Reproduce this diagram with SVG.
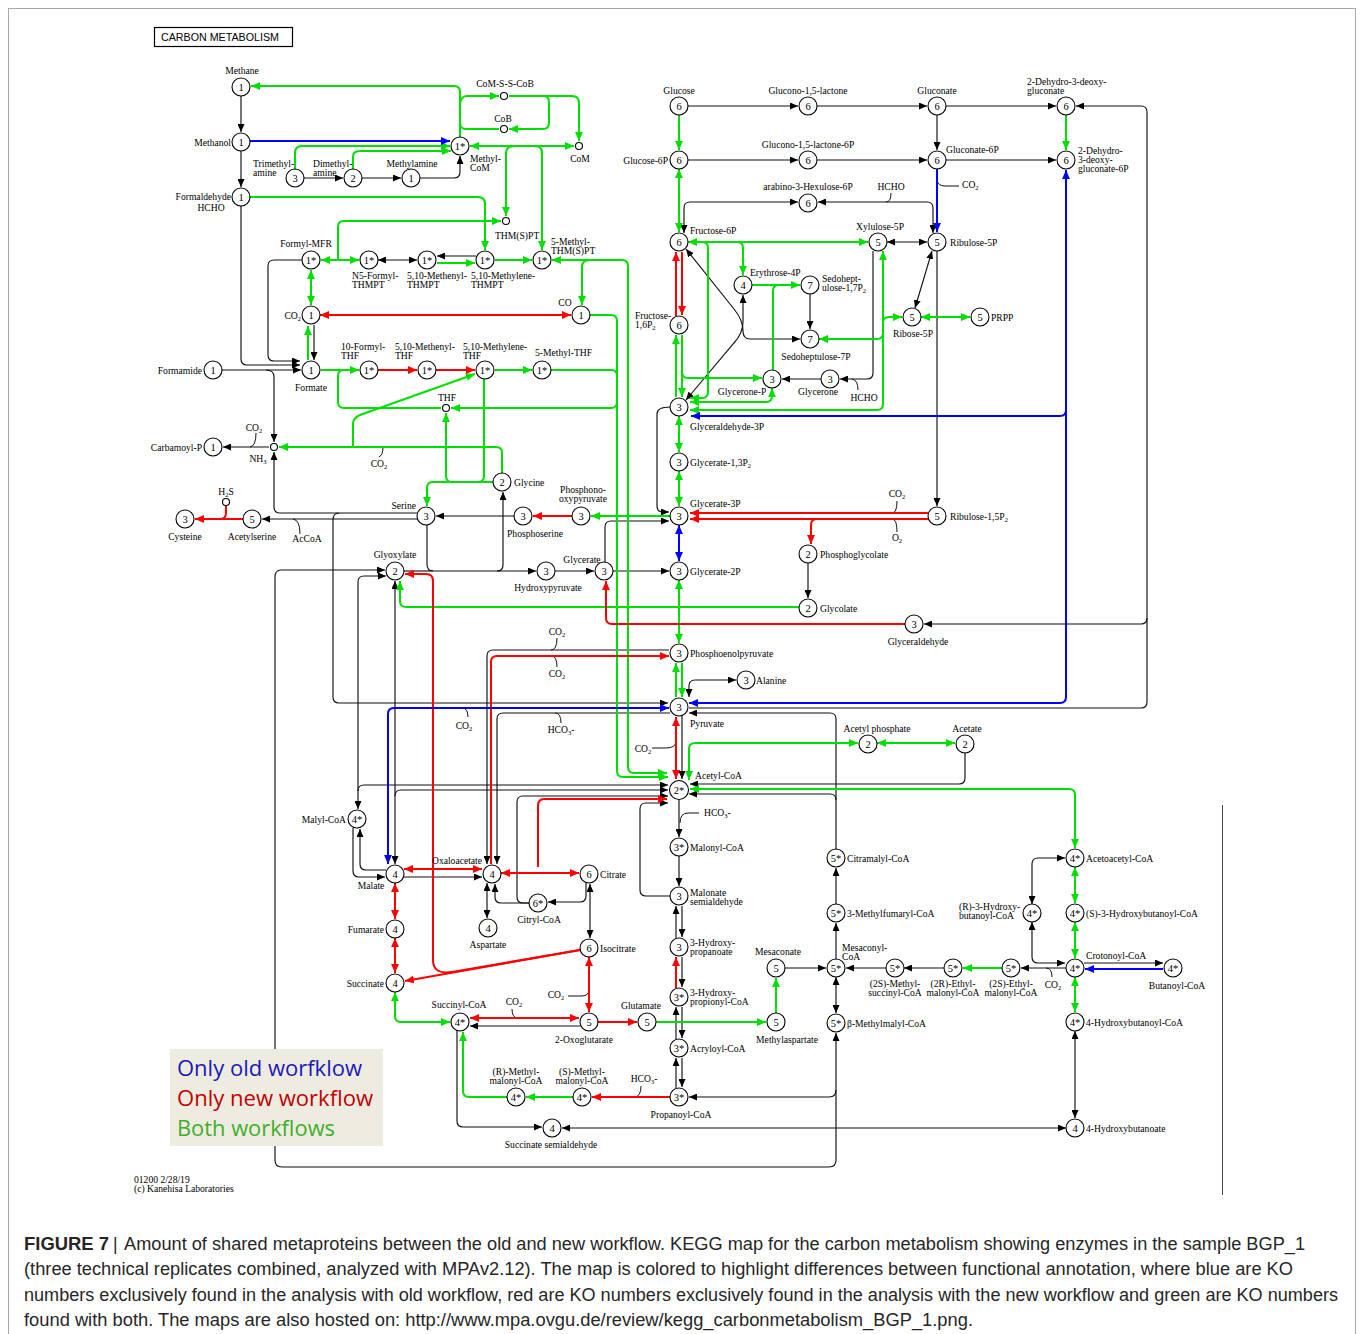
<svg xmlns="http://www.w3.org/2000/svg" width="1360" height="1334" viewBox="0 0 1360 1334">
<style>
.k{fill:none;stroke:#111;stroke-width:1.15}
.g{fill:none;stroke:#00e000;stroke-width:2}
.r{fill:none;stroke:#ff0000;stroke-width:2}
.b{fill:none;stroke:#0000ff;stroke-width:2}
.k.e{marker-end:url(#mk)} .k.s{marker-start:url(#mk)}
.g.e{marker-end:url(#mg)} .g.s{marker-start:url(#mg)}
.r.e{marker-end:url(#mr)} .r.s{marker-start:url(#mr)}
.b.e{marker-end:url(#mb)} .b.s{marker-start:url(#mb)}
.t{fill:none;stroke:#111;stroke-width:1}
.nd circle{fill:#fff;stroke:#000;stroke-width:1.1}
.n{font-family:"Liberation Serif",serif;font-size:10.5px;text-anchor:middle}
.lb{font-family:"Liberation Serif",serif;font-size:9.6px;fill:#000}
.sb{font-size:6.5px}
.m{text-anchor:middle}.x{text-anchor:end}
.cap{font-family:"Liberation Sans",Arial,sans-serif;font-size:17.5px;fill:#262626}
.leg{font-family:"Open Sans","Liberation Sans",sans-serif;font-size:22px}
</style>
<defs>
<marker id="mk" viewBox="0 0 8 7" refX="8" refY="3.5" markerWidth="8" markerHeight="7" markerUnits="userSpaceOnUse" orient="auto-start-reverse"><path d="M0,0L8,3.5L0,7z" fill="#000"/></marker>
<marker id="mg" viewBox="0 0 8 7" refX="8" refY="3.5" markerWidth="9" markerHeight="8" markerUnits="userSpaceOnUse" orient="auto-start-reverse"><path d="M0,0L8,3.5L0,7z" fill="#00e000"/></marker>
<marker id="mr" viewBox="0 0 8 7" refX="8" refY="3.5" markerWidth="9" markerHeight="8" markerUnits="userSpaceOnUse" orient="auto-start-reverse"><path d="M0,0L8,3.5L0,7z" fill="#ff0000"/></marker>
<marker id="mb" viewBox="0 0 8 7" refX="8" refY="3.5" markerWidth="9" markerHeight="8" markerUnits="userSpaceOnUse" orient="auto-start-reverse"><path d="M0,0L8,3.5L0,7z" fill="#0000ff"/></marker>
</defs>
<rect x="0" y="0" width="1360" height="1334" fill="#fff"/>
<rect x="8.5" y="8.5" width="1347" height="1340" fill="none" stroke="#aaa" stroke-width="1"/>
<line x1="1222.5" y1="805" x2="1222.5" y2="1195" stroke="#444" stroke-width="1"/>

<g id="title"><rect x="154.5" y="27.5" width="138" height="19" fill="#fff" stroke="#000" stroke-width="1.2"/><text x="161" y="41" font-family="Liberation Sans,sans-serif" font-size="11" textLength="118" lengthAdjust="spacingAndGlyphs">CARBON  METABOLISM</text></g>

<g id="connectors">
<!-- black -->
<path class="k e" d="M241,96V132"/>
<path class="k e" d="M241,151V187"/>
<path class="k e" d="M241,206V359Q241,365 247,365H300"/>
<path class="k e" d="M302,260H274Q268,260 268,266V355Q268,361 274,361H300"/>
<path class="k e" d="M222,370H301"/>
<path class="k e" d="M266,370Q274,370 274,377V442"/>
<path class="k e" d="M303,178H343"/>
<path class="k e" d="M361,178H401"/>
<path class="k e" d="M420,178H454Q460,178 460,172V156"/>
<path class="k e" d="M314,325V360"/>
<path class="k e s" d="M378,260H417"/>
<path class="k e" d="M476,256H437"/>
<path class="k e" d="M269,447H223"/>
<path class="t" d="M256,433q0,13 -6,14"/>
<path class="k e" d="M417,513H280Q274,513 274,507V452"/>
<path class="k e" d="M417,519H262"/>
<path class="t" d="M300,534q0,-14 -7,-15"/>
<path class="k e" d="M514,516H436"/>
<path class="k e" d="M339,513Q333,513 333,520V697Q333,703 339,703H668"/>
<path class="k e" d="M427,525V564Q427,571 433,571H536"/>
<path class="k" d="M404,571H433"/>
<path class="k e" d="M497,571Q503,571 503,565V492"/>
<path class="k e" d="M555,571H594"/>
<path class="k e" d="M613,571H669"/>
<path class="k e" d="M605,562V527Q605,521 611,521H669"/>
<path class="k e s" d="M385,570H281Q275,570 275,577V1160Q275,1167 282,1167H829Q836,1167 836,1160V1033"/>
<path class="k e s" d="M386,576H364Q358,576 358,582V809"/>
<path class="k e s" d="M395,581V864"/>
<path class="k e" d="M358,791Q358,785 364,785H668"/>
<path class="k e" d="M395,796Q395,790 401,790H668"/>
<path class="k e" d="M529,903H523Q517,903 517,897V802Q517,796 523,796H668"/>
<path class="k e" d="M670,896H646Q640,896 640,890V809Q640,803 646,803H668"/>
<path class="k e" d="M669,650H493Q487,650 487,656V864"/>
<path class="t" d="M557,638q0,12 -6,12"/>
<path class="k e" d="M670,713H503Q497,713 497,719V864"/>
<path class="t" d="M555,713q6,0 6,10"/>
<path class="k e" d="M404,877H482"/>
<path class="k e s" d="M487,883V918"/>
<path class="k e" d="M529,903H501Q495,903 495,897V884"/>
<path class="k e" d="M586,882V896Q586,902 580,902H548"/>
<path class="k e s" d="M590,884V938"/>
<path class="k e" d="M353,828V871Q353,877 359,877H385"/>
<path class="k e" d="M386,870H366Q360,870 360,864V829"/>
<path class="k e" d="M580,1026H470"/>
<path class="k e" d="M457,1031V1121Q457,1127 463,1127H542"/>
<path class="k e s" d="M1066,1128H562"/>
<path class="k e" d="M836,1090Q836,1097 829,1097H689"/>
<path class="k e" d="M676,1088V1058"/>
<path class="k e" d="M682,1058V1087"/>
<path class="k e" d="M676,1039V1007"/>
<path class="k e" d="M682,1007V1038"/>
<path class="k e" d="M682,957V987"/>
<path class="k e" d="M676,938V906"/>
<path class="k e" d="M682,906V937"/>
<path class="k e" d="M679,856V886"/>
<path class="k e" d="M679,800V837"/>
<path class="t" d="M680,823q0,-10 8,-10h11"/>
<path class="k e" d="M682,716V779"/>
<path class="t" d="M652,748h14q10,0 10,-7"/>
<path class="k e s" d="M689,697V686Q689,680 695,680H736"/>
<path class="k e" d="M836,849V719Q836,713 830,713H689"/>
<path class="k e" d="M836,800Q836,794 830,794H689"/>
<path class="k e" d="M965,753V778Q965,784 959,784H690"/>
<path class="k e" d="M836,959V923"/>
<path class="k e" d="M836,904V868"/>
<path class="k e s" d="M836,977V1013"/>
<path class="k e" d="M785,968H826"/>
<path class="k e" d="M886,968H846"/>
<path class="k e" d="M944,968H904"/>
<path class="k e" d="M1066,968H1021"/>
<path class="t" d="M1046,968q6,0 6,9"/>
<path class="k e s" d="M1032,904V864Q1032,858 1038,858H1065"/>
<path class="k e s" d="M1032,922V957Q1032,963 1038,963H1065"/>
<path class="k e" d="M1084,963H1163"/>
<path class="k e s" d="M1075,1031V1118"/>
<path class="k e" d="M688,106H798"/>
<path class="k e" d="M817,106H927"/>
<path class="k e" d="M946,106H1056"/>
<path class="k e" d="M937,115V150"/>
<path class="k e" d="M688,160H798"/>
<path class="k e" d="M817,160H927"/>
<path class="k e" d="M946,160H1056"/>
<path class="k e s" d="M684,233V208Q684,202 690,202H798"/>
<path class="k e s" d="M933,233V208Q933,202 927,202H818"/>
<path class="t" d="M891,193q0,9 -5,9"/>
<path class="k e s" d="M887,242H927"/>
<path class="k e" d="M810,294V329"/>
<path class="k e s" d="M686,249L734,309Q743,320 743,331Q743,339 750,339H800"/>
<path class="k e s" d="M686,400L734,343Q743,333 743,322V295"/>
<path class="k e s" d="M932,251L915,308"/>
<path class="k e" d="M937,251V506"/>
<path class="k e" d="M821,379H782"/>
<path class="k e" d="M873,251V373Q873,379 867,379H840"/>
<path class="t" d="M858,390q0,-10 -6,-11"/>
<path class="k e" d="M670,407Q657,407 657,414V506Q657,512 663,512H669"/>
<path class="k e" d="M808,563V598"/>
<path class="k e" d="M689,708H1141Q1147,708 1147,702V112Q1147,106 1141,106H1076"/>
<path class="k e" d="M1147,618Q1147,624 1141,624H924"/>
<path class="t" d="M937,180q1,6 8,6h14"/>
<path class="t" d="M897,501q0,12 -5,12"/>
<path class="t" d="M897,532q0,-13 -5,-13"/>
<path class="t" d="M462,708q6,0 6,9"/>
<path class="t" d="M557,667q0,-11 -6,-11"/>
<path class="t" d="M512,1009q0,9 6,9"/>
<path class="t" d="M568,996h14q7,0 7,-7"/>
<path class="t" d="M641,1086q0,11 -7,11"/>
<path class="t" d="M383,447q0,8 -4,10"/>
<!-- green -->
<path class="g e" d="M460,137V92Q460,86 454,86H251"/>
<path class="g e" d="M460,106Q460,96 467,96H499"/>
<path class="g e" d="M509,96H543Q549,96 549,102V123Q549,129 543,129H509"/>
<path class="g" d="M499,129H466Q460,129 460,123"/>
<path class="g e" d="M509,96H572Q579,96 579,103V141"/>
<path class="g e s" d="M470,146H574"/>
<path class="g e" d="M515,146Q506,146 506,153V216"/>
<path class="g e" d="M535,146Q542,146 542,153V250"/>
<path class="g e" d="M295,169V153Q295,146 302,146H450"/>
<path class="g e" d="M353,169V157Q353,151 360,151H451"/>
<path class="g e" d="M250,197H478Q485,197 485,204V250"/>
<path class="g e" d="M338,260V227Q338,221 344,221H501"/>
<path class="g e s" d="M321,260H359"/>
<path class="g e" d="M437,263H475"/>
<path class="g e" d="M495,260H532"/>
<path class="g e s" d="M552,260H622Q628,260 628,266V767Q628,773 634,773H667"/>
<path class="g e" d="M590,260Q582,260 582,267V305"/>
<path class="g e" d="M590,315H611Q617,315 617,321V771Q617,777 623,777H668"/>
<path class="g e s" d="M311,270V305"/>
<path class="g e" d="M308,360V326"/>
<path class="g e" d="M321,370H359"/>
<path class="g e" d="M495,370H532"/>
<path class="g e" d="M551,370H611Q617,370 617,376V402Q617,408 611,408H451"/>
<path class="g" d="M441,408H344Q338,408 338,402V376Q338,370 344,370"/>
<path class="g e" d="M353,447V424Q353,418 360,415L475,374"/>
<path class="g e" d="M502,473V453Q502,447 496,447H279"/>
<path class="g e" d="M493,482H433Q427,482 427,488V506"/>
<path class="g" d="M484,379V476Q484,482 478,482"/>
<path class="g e" d="M452,482Q446,482 446,476V413"/>
<path class="g e" d="M670,516H591"/>
<path class="g e" d="M799,607H406Q400,607 400,601V581"/>
<path class="g e s" d="M679,169V232"/>
<path class="g e" d="M679,115V150"/>
<path class="g e" d="M1066,115V150"/>
<path class="g e s" d="M688,242H868"/>
<path class="g e" d="M737,242Q743,242 743,248V275"/>
<path class="g e" d="M752,285H800"/>
<path class="g" d="M773,370V291Q773,285 779,285"/>
<path class="g e s" d="M819,339H877Q883,339 883,333V323Q883,317 889,317H902"/>
<path class="g e s" d="M883,251V404Q883,410 877,410H690"/>
<path class="g e" d="M702,242Q708,242 708,248V392Q708,398 702,398H690"/>
<path class="g e s" d="M772,388V396Q772,402 766,402H690"/>
<path class="g e" d="M676,397V335"/>
<path class="g e" d="M682,335V397"/>
<path class="g e" d="M682,372Q682,378 688,378H762"/>
<path class="g e s" d="M921,317H970"/>
<path class="g e s" d="M679,416V452"/>
<path class="g e s" d="M679,471V506"/>
<path class="g e s" d="M679,580V643"/>
<path class="g e" d="M676,697V663"/>
<path class="g e" d="M682,663V697"/>
<path class="g e s" d="M689,780V749Q689,743 695,743H858"/>
<path class="g e s" d="M877,743H955"/>
<path class="g e s" d="M690,789H1069Q1075,789 1075,795V848"/>
<path class="g e s" d="M1075,867V903"/>
<path class="g e s" d="M1075,922V958"/>
<path class="g e s" d="M1075,977V1012"/>
<path class="g e" d="M1002,968H963"/>
<path class="g e" d="M776,1013V978"/>
<path class="g e" d="M656,1022H766"/>
<path class="g e s" d="M395,992V1016Q395,1022 401,1022H450"/>
<path class="g e" d="M573,1097H526"/>
<path class="g e" d="M507,1097H469Q463,1097 463,1091V1032"/>
<!-- red -->
<path class="r e s" d="M320,315H571"/>
<path class="r e" d="M378,370H417"/>
<path class="r e" d="M436,370H475"/>
<path class="r e" d="M243,519H195"/>
<path class="r" d="M226,506V513Q226,519 220,519"/>
<path class="r e" d="M572,516H533"/>
<path class="r e" d="M905,624H612Q606,624 606,618V581"/>
<path class="r e" d="M580,950L452,972Q433,975 433,960V581Q433,574 426,574H405"/>
<path class="r e" d="M580,950L405,981"/>
<path class="r e s" d="M589,957V1012"/>
<path class="r e s" d="M470,1018H579"/>
<path class="r e" d="M598,1022H637"/>
<path class="r e" d="M670,1097H592"/>
<path class="r e s" d="M404,869H482"/>
<path class="r e s" d="M501,873H579"/>
<path class="r e" d="M538,867V806Q538,799 544,799H667"/>
<path class="r e s" d="M395,883V919"/>
<path class="r e s" d="M395,938V973"/>
<path class="r e" d="M928,513H690"/>
<path class="r e" d="M928,519H690"/>
<path class="r e" d="M817,519Q811,519 811,525V544"/>
<path class="r e" d="M676,316V252"/>
<path class="r e" d="M682,252V315"/>
<path class="r e" d="M491,864V662Q491,656 497,656H669"/>
<path class="r e s" d="M676,717V779"/>
<path class="r e" d="M676,988V957"/>
<!-- blue -->
<path class="b e" d="M250,141H450"/>
<path class="b e" d="M937,169V232"/>
<path class="b e s" d="M689,703H1060Q1066,703 1066,697V170"/>
<path class="b e" d="M1066,410Q1066,416 1060,416H691"/>
<path class="b e s" d="M669,708H394Q388,708 388,714V864"/>
<path class="b e s" d="M679,525V561"/>
<path class="b e" d="M1163,969H1085"/>
</g>

<g id="nodes">
<g id="methane" class="nd"><circle cx="241" cy="87" r="9"/><text class="n" x="241" y="91">1</text><text class="lb m" x="242" y="74">Methane</text></g>
<g id="methanol" class="nd"><circle cx="241" cy="142" r="9"/><text class="n" x="241" y="146">1</text><text class="lb x" x="231" y="146">Methanol</text></g>
<g id="formaldehyde" class="nd"><circle cx="241" cy="197" r="9"/><text class="n" x="241" y="201">1</text><text class="lb x" x="231" y="200">Formaldehyde</text><text class="lb m" x="211" y="211">HCHO</text></g>
<g id="methylcom" class="nd"><circle cx="460" cy="146" r="9"/><text class="n" x="460" y="150">1*</text><text class="lb" x="470" y="162">Methyl-</text><text class="lb" x="470" y="171">CoM</text></g>
<g id="comsscob" class="nd"><circle cx="504" cy="96" r="3.5"/><text class="lb m" x="505" y="87">CoM-S-S-CoB</text></g>
<g id="cob" class="nd"><circle cx="504" cy="129" r="3.5"/><text class="lb m" x="503" y="122">CoB</text></g>
<g id="com" class="nd"><circle cx="579" cy="146" r="3.5"/><text class="lb m" x="580" y="162">CoM</text></g>
<g id="trimethylamine" class="nd"><circle cx="295" cy="178" r="9"/><text class="n" x="295" y="182">3</text><text class="lb" x="253" y="167">Trimethyl-</text><text class="lb" x="253" y="176">amine</text></g>
<g id="dimethylamine" class="nd"><circle cx="353" cy="178" r="9"/><text class="n" x="353" y="182">2</text><text class="lb" x="313" y="167">Dimethyl-</text><text class="lb" x="313" y="176">amine</text></g>
<g id="methylamine" class="nd"><circle cx="411" cy="178" r="9"/><text class="n" x="411" y="182">1</text><text class="lb m" x="412" y="167">Methylamine</text></g>
<g id="thmspt" class="nd"><circle cx="506" cy="221" r="3.5"/><text class="lb" x="495" y="239">THM(S)PT</text></g>
<g id="formylmfr" class="nd"><circle cx="311" cy="260" r="9"/><text class="n" x="311" y="264">1*</text><text class="lb m" x="306" y="247">Formyl-MFR</text></g>
<g id="n5formylthmpt" class="nd"><circle cx="369" cy="260" r="9"/><text class="n" x="369" y="264">1*</text><text class="lb" x="352" y="279">N5-Formyl-</text><text class="lb" x="352" y="288">THMPT</text></g>
<g id="methenylthmpt" class="nd"><circle cx="427" cy="260" r="9"/><text class="n" x="427" y="264">1*</text><text class="lb" x="407" y="279">5,10-Methenyl-</text><text class="lb" x="407" y="288">THMPT</text></g>
<g id="methylenethmpt" class="nd"><circle cx="485" cy="260" r="9"/><text class="n" x="485" y="264">1*</text><text class="lb" x="471" y="279">5,10-Methylene-</text><text class="lb" x="471" y="288">THMPT</text></g>
<g id="methylthmspt" class="nd"><circle cx="542" cy="260" r="9"/><text class="n" x="542" y="264">1*</text><text class="lb" x="551" y="245">5-Methyl-</text><text class="lb" x="551" y="254">THM(S)PT</text></g>
<g id="co2" class="nd"><circle cx="311" cy="315" r="9"/><text class="n" x="311" y="319">1</text><text class="lb x" x="301" y="319">CO<tspan class="sb" dy="2">2</tspan></text></g>
<g id="co" class="nd"><circle cx="581" cy="315" r="9"/><text class="n" x="581" y="319">1</text><text class="lb m" x="565" y="306">CO</text></g>
<g id="formate" class="nd"><circle cx="311" cy="370" r="9"/><text class="n" x="311" y="374">1</text><text class="lb m" x="311" y="391">Formate</text></g>
<g id="formamide" class="nd"><circle cx="213" cy="370" r="9"/><text class="n" x="213" y="374">1</text><text class="lb x" x="202" y="374">Formamide</text></g>
<g id="formylthf" class="nd"><circle cx="369" cy="370" r="9"/><text class="n" x="369" y="374">1*</text><text class="lb" x="341" y="350">10-Formyl-</text><text class="lb" x="341" y="359">THF</text></g>
<g id="methenylthf" class="nd"><circle cx="427" cy="370" r="9"/><text class="n" x="427" y="374">1*</text><text class="lb" x="395" y="350">5,10-Methenyl-</text><text class="lb" x="395" y="359">THF</text></g>
<g id="methylenethf" class="nd"><circle cx="485" cy="370" r="9"/><text class="n" x="485" y="374">1*</text><text class="lb" x="463" y="350">5,10-Methylene-</text><text class="lb" x="463" y="359">THF</text></g>
<g id="methylthf" class="nd"><circle cx="542" cy="370" r="9"/><text class="n" x="542" y="374">1*</text><text class="lb" x="535" y="356">5-Methyl-THF</text></g>
<g id="thf" class="nd"><circle cx="446" cy="408" r="3.5"/><text class="lb m" x="447" y="401">THF</text></g>
<g id="nh3" class="nd"><circle cx="274" cy="447" r="3.5"/><text class="lb m" x="258" y="462">NH<tspan class="sb" dy="2">3</tspan></text></g>
<g id="carbamoylp" class="nd"><circle cx="213" cy="447" r="9"/><text class="n" x="213" y="451">1</text><text class="lb x" x="202" y="451">Carbamoyl-P</text></g>
<g id="glycine" class="nd"><circle cx="502" cy="482" r="9"/><text class="n" x="502" y="486">2</text><text class="lb" x="514" y="486">Glycine</text></g>
<g id="serine" class="nd"><circle cx="426" cy="516" r="9"/><text class="n" x="426" y="520">3</text><text class="lb x" x="416" y="509">Serine</text></g>
<g id="phosphoserine" class="nd"><circle cx="523" cy="516" r="9"/><text class="n" x="523" y="520">3</text><text class="lb m" x="535" y="537">Phosphoserine</text></g>
<g id="phosphonooxypyruvate" class="nd"><circle cx="581" cy="516" r="9"/><text class="n" x="581" y="520">3</text><text class="lb m" x="583" y="493">Phosphono-</text><text class="lb m" x="583" y="502">oxypyruvate</text></g>
<g id="acetylserine" class="nd"><circle cx="252" cy="519" r="9"/><text class="n" x="252" y="523">5</text><text class="lb m" x="252" y="540">Acetylserine</text></g>
<g id="cysteine" class="nd"><circle cx="185" cy="519" r="9"/><text class="n" x="185" y="523">3</text><text class="lb m" x="185" y="540">Cysteine</text></g>
<g id="h2s" class="nd"><circle cx="226" cy="502" r="3.5"/><text class="lb m" x="226" y="495">H<tspan class="sb" dy="2">2</tspan><tspan dy="-2">S</tspan></text></g>
<g id="sidelabels"><text class="lb m" x="307" y="542">AcCoA</text><text class="lb m" x="254" y="431">CO<tspan class="sb" dy="2">2</tspan></text><text class="lb m" x="379" y="467">CO<tspan class="sb" dy="2">2</tspan></text></g>
<g id="glyoxylate" class="nd"><circle cx="395" cy="571" r="9"/><text class="n" x="395" y="575">2</text><text class="lb m" x="395" y="558">Glyoxylate</text></g>
<g id="hydroxypyruvate" class="nd"><circle cx="546" cy="571" r="9"/><text class="n" x="546" y="575">3</text><text class="lb m" x="548" y="591">Hydroxypyruvate</text></g>
<g id="glycerate" class="nd"><circle cx="604" cy="571" r="9"/><text class="n" x="604" y="575">3</text><text class="lb m" x="582" y="563">Glycerate</text></g>
<g id="glucose" class="nd"><circle cx="679" cy="106" r="9"/><text class="n" x="679" y="110">6</text><text class="lb m" x="679" y="94">Glucose</text></g>
<g id="gluconolactone" class="nd"><circle cx="808" cy="106" r="9"/><text class="n" x="808" y="110">6</text><text class="lb m" x="808" y="94">Glucono-1,5-lactone</text></g>
<g id="gluconate" class="nd"><circle cx="937" cy="106" r="9"/><text class="n" x="937" y="110">6</text><text class="lb m" x="937" y="94">Gluconate</text></g>
<g id="kdg" class="nd"><circle cx="1066" cy="106" r="9"/><text class="n" x="1066" y="110">6</text><text class="lb" x="1027" y="85">2-Dehydro-3-deoxy-</text><text class="lb" x="1027" y="94">gluconate</text></g>
<g id="g6p" class="nd"><circle cx="679" cy="160" r="9"/><text class="n" x="679" y="164">6</text><text class="lb x" x="668" y="164">Glucose-6P</text></g>
<g id="gluconolactone6p" class="nd"><circle cx="808" cy="160" r="9"/><text class="n" x="808" y="164">6</text><text class="lb m" x="808" y="148">Glucono-1,5-lactone-6P</text></g>
<g id="gluconate6p" class="nd"><circle cx="937" cy="160" r="9"/><text class="n" x="937" y="164">6</text><text class="lb" x="946" y="153">Gluconate-6P</text></g>
<g id="kdpg" class="nd"><circle cx="1066" cy="160" r="9"/><text class="n" x="1066" y="164">6</text><text class="lb" x="1078" y="154">2-Dehydro-</text><text class="lb" x="1078" y="163">3-deoxy-</text><text class="lb" x="1078" y="172">gluconate-6P</text></g>
<g id="hexulose6p" class="nd"><circle cx="808" cy="203" r="9"/><text class="n" x="808" y="207">6</text><text class="lb m" x="808" y="190">arabino-3-Hexulose-6P</text><text class="lb m" x="891" y="190">HCHO</text><text class="lb" x="962" y="188">CO<tspan class="sb" dy="2">2</tspan></text></g>
<g id="f6p" class="nd"><circle cx="679" cy="242" r="9"/><text class="n" x="679" y="246">6</text><text class="lb" x="690" y="234">Fructose-6P</text></g>
<g id="xu5p" class="nd"><circle cx="878" cy="242" r="9"/><text class="n" x="878" y="246">5</text><text class="lb m" x="880" y="230">Xylulose-5P</text></g>
<g id="ru5p" class="nd"><circle cx="937" cy="242" r="9"/><text class="n" x="937" y="246">5</text><text class="lb" x="950" y="246">Ribulose-5P</text></g>
<g id="e4p" class="nd"><circle cx="743" cy="285" r="9"/><text class="n" x="743" y="289">4</text><text class="lb" x="750" y="276">Erythrose-4P</text></g>
<g id="s17p" class="nd"><circle cx="810" cy="285" r="9"/><text class="n" x="810" y="289">7</text><text class="lb" x="822" y="282">Sedohept-</text><text class="lb" x="822" y="291">ulose-1,7P<tspan class="sb" dy="2">2</tspan></text></g>
<g id="fbp" class="nd"><circle cx="679" cy="325" r="9"/><text class="n" x="679" y="329">6</text><text class="lb" x="635" y="319">Fructose-</text><text class="lb" x="635" y="328">1,6P<tspan class="sb" dy="2">2</tspan></text></g>
<g id="r5p" class="nd"><circle cx="912" cy="317" r="9"/><text class="n" x="912" y="321">5</text><text class="lb m" x="913" y="337">Ribose-5P</text></g>
<g id="prpp" class="nd"><circle cx="980" cy="317" r="9"/><text class="n" x="980" y="321">5</text><text class="lb" x="991" y="321">PRPP</text></g>
<g id="s7p" class="nd"><circle cx="810" cy="339" r="9"/><text class="n" x="810" y="343">7</text><text class="lb m" x="816" y="360">Sedoheptulose-7P</text></g>
<g id="dhap" class="nd"><circle cx="772" cy="379" r="9"/><text class="n" x="772" y="383">3</text><text class="lb m" x="742" y="395">Glycerone-P</text></g>
<g id="glycerone" class="nd"><circle cx="830" cy="379" r="9"/><text class="n" x="830" y="383">3</text><text class="lb m" x="818" y="395">Glycerone</text><text class="lb m" x="864" y="401">HCHO</text></g>
<g id="g3p" class="nd"><circle cx="679" cy="407" r="9"/><text class="n" x="679" y="411">3</text><text class="lb" x="690" y="430">Glyceraldehyde-3P</text></g>
<g id="bpg" class="nd"><circle cx="679" cy="462" r="9"/><text class="n" x="679" y="466">3</text><text class="lb" x="690" y="466">Glycerate-1,3P<tspan class="sb" dy="2">2</tspan></text></g>
<g id="glycerate3p" class="nd"><circle cx="679" cy="516" r="9"/><text class="n" x="679" y="520">3</text><text class="lb" x="690" y="507">Glycerate-3P</text></g>
<g id="rubp" class="nd"><circle cx="937" cy="516" r="9"/><text class="n" x="937" y="520">5</text><text class="lb" x="950" y="520">Ribulose-1,5P<tspan class="sb" dy="2">2</tspan></text><text class="lb m" x="897" y="497">CO<tspan class="sb" dy="2">2</tspan></text><text class="lb m" x="897" y="541">O<tspan class="sb" dy="2">2</tspan></text></g>
<g id="phosphoglycolate" class="nd"><circle cx="808" cy="554" r="9"/><text class="n" x="808" y="558">2</text><text class="lb" x="820" y="558">Phosphoglycolate</text></g>
<g id="glycerate2p" class="nd"><circle cx="679" cy="571" r="9"/><text class="n" x="679" y="575">3</text><text class="lb" x="690" y="575">Glycerate-2P</text></g>
<g id="glycolate" class="nd"><circle cx="808" cy="608" r="9"/><text class="n" x="808" y="612">2</text><text class="lb" x="820" y="612">Glycolate</text></g>
<g id="glyceraldehyde" class="nd"><circle cx="914" cy="624" r="9"/><text class="n" x="914" y="628">3</text><text class="lb m" x="918" y="645">Glyceraldehyde</text></g>
<g id="pep" class="nd"><circle cx="679" cy="653" r="9"/><text class="n" x="679" y="657">3</text><text class="lb" x="690" y="657">Phosphoenolpyruvate</text><text class="lb m" x="557" y="635">CO<tspan class="sb" dy="2">2</tspan></text><text class="lb m" x="557" y="677">CO<tspan class="sb" dy="2">2</tspan></text></g>
<g id="alanine" class="nd"><circle cx="746" cy="680" r="9"/><text class="n" x="746" y="684">3</text><text class="lb" x="756" y="684">Alanine</text></g>
<g id="pyruvate" class="nd"><circle cx="679" cy="707" r="9"/><text class="n" x="679" y="711">3</text><text class="lb" x="690" y="727">Pyruvate</text><text class="lb m" x="464" y="729">CO<tspan class="sb" dy="2">2</tspan></text><text class="lb m" x="561" y="733">HCO<tspan class="sb" dy="2">3</tspan><tspan dy="-2">-</tspan></text><text class="lb m" x="643" y="752">CO<tspan class="sb" dy="2">2</tspan></text></g>
<g id="acetylp" class="nd"><circle cx="868" cy="744" r="9"/><text class="n" x="868" y="748">2</text><text class="lb m" x="877" y="732">Acetyl phosphate</text></g>
<g id="acetate" class="nd"><circle cx="965" cy="744" r="9"/><text class="n" x="965" y="748">2</text><text class="lb m" x="967" y="732">Acetate</text></g>
<g id="acetylcoa" class="nd"><circle cx="679" cy="790" r="9.5"/><text class="n" x="679" y="794">2*</text><text class="lb" x="695" y="779">Acetyl-CoA</text><text class="lb" x="704" y="816">HCO<tspan class="sb" dy="2">3</tspan><tspan dy="-2">-</tspan></text></g>
<g id="malonylcoa" class="nd"><circle cx="679" cy="847" r="9"/><text class="n" x="679" y="851">3*</text><text class="lb" x="690" y="851">Malonyl-CoA</text></g>
<g id="msa" class="nd"><circle cx="679" cy="896" r="9"/><text class="n" x="679" y="900">3</text><text class="lb" x="690" y="896">Malonate</text><text class="lb" x="690" y="905">semialdehyde</text></g>
<g id="hp" class="nd"><circle cx="679" cy="947" r="9"/><text class="n" x="679" y="951">3</text><text class="lb" x="690" y="946">3-Hydroxy-</text><text class="lb" x="690" y="955">propanoate</text></g>
<g id="hpcoa" class="nd"><circle cx="679" cy="997" r="9"/><text class="n" x="679" y="1001">3*</text><text class="lb" x="690" y="996">3-Hydroxy-</text><text class="lb" x="690" y="1005">propionyl-CoA</text></g>
<g id="acryloylcoa" class="nd"><circle cx="679" cy="1048" r="9"/><text class="n" x="679" y="1052">3*</text><text class="lb" x="690" y="1052">Acryloyl-CoA</text></g>
<g id="propanoylcoa" class="nd"><circle cx="679" cy="1097" r="9"/><text class="n" x="679" y="1101">3*</text><text class="lb m" x="681" y="1118">Propanoyl-CoA</text><text class="lb m" x="644" y="1082">HCO<tspan class="sb" dy="2">3</tspan><tspan dy="-2">-</tspan></text></g>
<g id="citramalylcoa" class="nd"><circle cx="836" cy="858" r="9"/><text class="n" x="836" y="862">5*</text><text class="lb" x="847" y="862">Citramalyl-CoA</text></g>
<g id="mfcoa" class="nd"><circle cx="836" cy="913" r="9"/><text class="n" x="836" y="917">5*</text><text class="lb" x="847" y="917">3-Methylfumaryl-CoA</text></g>
<g id="mesaconylcoa" class="nd"><circle cx="836" cy="968" r="9"/><text class="n" x="836" y="972">5*</text><text class="lb" x="842" y="951">Mesaconyl-</text><text class="lb" x="842" y="960">CoA</text></g>
<g id="bmmcoa" class="nd"><circle cx="836" cy="1023" r="9"/><text class="n" x="836" y="1027">5*</text><text class="lb" x="847" y="1027">β-Methylmalyl-CoA</text></g>
<g id="mesaconate" class="nd"><circle cx="776" cy="968" r="9"/><text class="n" x="776" y="972">5</text><text class="lb m" x="778" y="955">Mesaconate</text></g>
<g id="methylaspartate" class="nd"><circle cx="776" cy="1022" r="9"/><text class="n" x="776" y="1026">5</text><text class="lb m" x="787" y="1043">Methylaspartate</text></g>
<g id="glutamate" class="nd"><circle cx="647" cy="1022" r="9"/><text class="n" x="647" y="1026">5</text><text class="lb m" x="641" y="1009">Glutamate</text></g>
<g id="oxoglutarate" class="nd"><circle cx="589" cy="1022" r="9"/><text class="n" x="589" y="1026">5</text><text class="lb m" x="584" y="1043">2-Oxoglutarate</text><text class="lb m" x="556" y="998">CO<tspan class="sb" dy="2">2</tspan></text><text class="lb m" x="514" y="1005">CO<tspan class="sb" dy="2">2</tspan></text></g>
<g id="isocitrate" class="nd"><circle cx="589" cy="948" r="9"/><text class="n" x="589" y="952">6</text><text class="lb" x="600" y="952">Isocitrate</text></g>
<g id="citrate" class="nd"><circle cx="589" cy="874" r="9"/><text class="n" x="589" y="878">6</text><text class="lb" x="600" y="878">Citrate</text></g>
<g id="citrylcoa" class="nd"><circle cx="538" cy="903" r="9"/><text class="n" x="538" y="907">6*</text><text class="lb m" x="539" y="923">Citryl-CoA</text></g>
<g id="oxaloacetate" class="nd"><circle cx="492" cy="874" r="9"/><text class="n" x="492" y="878">4</text><text class="lb m" x="457" y="864">Oxaloacetate</text></g>
<g id="aspartate" class="nd"><circle cx="488" cy="928" r="9"/><text class="n" x="488" y="932">4</text><text class="lb m" x="488" y="948">Aspartate</text></g>
<g id="malate" class="nd"><circle cx="395" cy="874" r="9"/><text class="n" x="395" y="878">4</text><text class="lb m" x="371" y="889">Malate</text></g>
<g id="malylcoa" class="nd"><circle cx="357" cy="819" r="9"/><text class="n" x="357" y="823">4*</text><text class="lb x" x="346" y="823">Malyl-CoA</text></g>
<g id="fumarate" class="nd"><circle cx="395" cy="929" r="9"/><text class="n" x="395" y="933">4</text><text class="lb x" x="384" y="933">Fumarate</text></g>
<g id="succinate" class="nd"><circle cx="395" cy="983" r="9"/><text class="n" x="395" y="987">4</text><text class="lb x" x="384" y="987">Succinate</text></g>
<g id="succinylcoa" class="nd"><circle cx="460" cy="1022" r="9"/><text class="n" x="460" y="1026">4*</text><text class="lb m" x="459" y="1008">Succinyl-CoA</text></g>
<g id="rmmcoa" class="nd"><circle cx="516" cy="1097" r="9"/><text class="n" x="516" y="1101">4*</text><text class="lb m" x="516" y="1075">(R)-Methyl-</text><text class="lb m" x="516" y="1084">malonyl-CoA</text></g>
<g id="smmcoa" class="nd"><circle cx="582" cy="1097" r="9"/><text class="n" x="582" y="1101">4*</text><text class="lb m" x="582" y="1075">(S)-Methyl-</text><text class="lb m" x="582" y="1084">malonyl-CoA</text></g>
<g id="ssa" class="nd"><circle cx="552" cy="1128" r="9"/><text class="n" x="552" y="1132">4</text><text class="lb m" x="551" y="1148">Succinate semialdehyde</text></g>
<g id="acetoacetylcoa" class="nd"><circle cx="1075" cy="858" r="9"/><text class="n" x="1075" y="862">4*</text><text class="lb" x="1086" y="862">Acetoacetyl-CoA</text></g>
<g id="s3hbcoa" class="nd"><circle cx="1075" cy="913" r="9"/><text class="n" x="1075" y="917">4*</text><text class="lb" x="1086" y="917">(S)-3-Hydroxybutanoyl-CoA</text></g>
<g id="r3hbcoa" class="nd"><circle cx="1032" cy="913" r="9"/><text class="n" x="1032" y="917">4*</text><text class="lb" x="959" y="910">(R)-3-Hydroxy-</text><text class="lb" x="959" y="919">butanoyl-CoA</text></g>
<g id="crotonoylcoa" class="nd"><circle cx="1075" cy="968" r="9"/><text class="n" x="1075" y="972">4*</text><text class="lb" x="1086" y="959">Crotonoyl-CoA</text><text class="lb m" x="1053" y="988">CO<tspan class="sb" dy="2">2</tspan></text></g>
<g id="butanoylcoa" class="nd"><circle cx="1173" cy="968" r="9"/><text class="n" x="1173" y="972">4*</text><text class="lb m" x="1177" y="989">Butanoyl-CoA</text></g>
<g id="esmcoa" class="nd"><circle cx="1011" cy="968" r="9"/><text class="n" x="1011" y="972">5*</text><text class="lb m" x="1011" y="987">(2S)-Ethyl-</text><text class="lb m" x="1011" y="996">malonyl-CoA</text></g>
<g id="ermcoa" class="nd"><circle cx="953" cy="968" r="9"/><text class="n" x="953" y="972">5*</text><text class="lb m" x="953" y="987">(2R)-Ethyl-</text><text class="lb m" x="953" y="996">malonyl-CoA</text></g>
<g id="msucoa" class="nd"><circle cx="895" cy="968" r="9"/><text class="n" x="895" y="972">5*</text><text class="lb m" x="895" y="987">(2S)-Methyl-</text><text class="lb m" x="895" y="996">succinyl-CoA</text></g>
<g id="hbcoa" class="nd"><circle cx="1075" cy="1022" r="9"/><text class="n" x="1075" y="1026">4*</text><text class="lb" x="1086" y="1026">4-Hydroxybutanoyl-CoA</text></g>
<g id="hb" class="nd"><circle cx="1075" cy="1128" r="9"/><text class="n" x="1075" y="1132">4</text><text class="lb" x="1086" y="1132">4-Hydroxybutanoate</text></g>
</g>

<g id="legend">
<rect x="170" y="1049" width="213" height="97" fill="#eeece1"/>
<text class="leg" x="177" y="1076" fill="#1a1ab8" textLength="185" lengthAdjust="spacingAndGlyphs">Only old worfklow</text>
<text class="leg" x="177" y="1106" fill="#c00000" textLength="196" lengthAdjust="spacingAndGlyphs">Only new workflow</text>
<text class="leg" x="177" y="1136" fill="#3fae2a" textLength="158" lengthAdjust="spacingAndGlyphs">Both workflows</text>
</g>
<g id="footer"><text class="lb" x="134" y="1183" font-size="9">01200 2/28/19</text><text class="lb" x="134" y="1192" font-size="9">(c) Kanehisa Laboratories</text></g>

<g id="caption">
<text class="cap" x="24" y="1250" font-weight="bold" textLength="85" lengthAdjust="spacingAndGlyphs">FIGURE 7</text>
<text class="cap" x="113" y="1250">|</text>
<text class="cap" x="124" y="1250" textLength="1181" lengthAdjust="spacingAndGlyphs">Amount of shared metaproteins between the old and new workflow. KEGG map for the carbon metabolism showing enzymes in the sample BGP_1</text>
<text class="cap" x="24" y="1275" textLength="1269" lengthAdjust="spacingAndGlyphs">(three technical replicates combined, analyzed with MPAv2.12). The map is colored to highlight differences between functional annotation, where blue are KO</text>
<text class="cap" x="24" y="1301" textLength="1314" lengthAdjust="spacingAndGlyphs">numbers exclusively found in the analysis with old workflow, red are KO numbers exclusively found in the analysis with the new workflow and green are KO numbers</text>
<text class="cap" x="24" y="1326" textLength="949" lengthAdjust="spacingAndGlyphs">found with both. The maps are also hosted on: http://www.mpa.ovgu.de/review/kegg_carbonmetabolism_BGP_1.png.</text>
</g>
</svg>
